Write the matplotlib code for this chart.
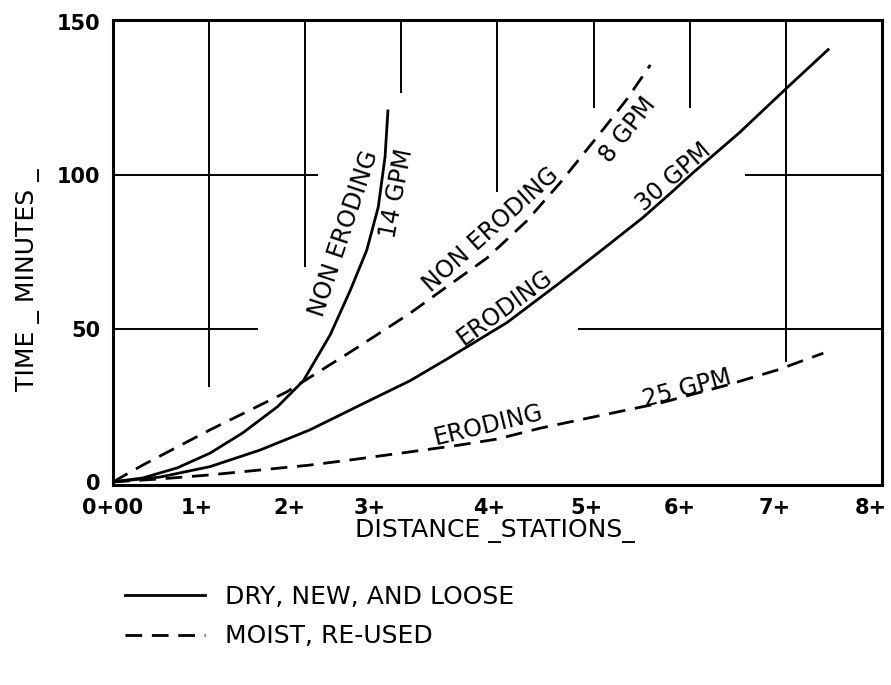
import numpy as np
import matplotlib
matplotlib.use('Agg')
import matplotlib.pyplot as plt

# --- data (distance in stations, time in minutes) ---
x_ne14 = [0, 0.31, 0.67, 1.01, 1.35, 1.71, 1.98, 2.26, 2.47, 2.64, 2.76, 2.83, 2.86]
y_ne14 = [0, 1.3, 4.6, 9.4, 16, 24.5, 33, 48, 62.6, 75.6, 89.7, 106, 121]

x_ne8 = [0, 0.31, 1.01, 1.43, 1.81, 2.5, 3.09, 3.47, 3.89, 4.3, 4.65, 5.1, 5.35, 5.59]
y_ne8 = [0, 5.5, 17, 23.5, 29.4, 43, 55, 63.6, 73, 85, 97.5, 115, 125, 136]

x_er30 = [0, 0.49, 1.01, 1.53, 2.05, 2.6, 3.09, 3.47, 4.1, 4.65, 5.1, 5.52, 5.83, 6.04, 6.52, 7.01, 7.44]
y_er30 = [0, 1.6, 5, 10.4, 17, 25.5, 33, 40, 52, 65, 76, 86.4, 95, 101, 114, 128.5, 141]

x_er25 = [0, 0.5, 1.01, 1.5, 2.05, 2.5, 3.09, 3.6, 4.0, 4.44, 5.0, 5.69, 6.39, 6.91, 7.39]
y_er25 = [0, 1.0, 2.3, 3.8, 5.5, 7.3, 9.8, 12, 14, 17.5, 21.2, 25.7, 31.6, 36.5, 42]

xtick_labels = ['0+00', '1+', '2+', '3+', '4+', '5+', '6+', '7+', '8+']
xtick_pos = [0, 0.87, 1.84, 2.67, 3.91, 4.93, 5.9, 6.88, 7.88]
yticks = [0, 50, 100, 150]

# partial grid lines drawn on the sheet
vgrid_x = [1, 2, 3, 4, 5, 6, 7]
vgrid_lo = [31, 70, 127, 94.5, 122, 122, 39]
hgrid = [(100, 0, 2.13), (100, 6.57, 8), (50, 0, 1.51), (50, 4.84, 8)]

# curve labels: text, x, y, angle
curve_text = [
    ('NON ERODING', 2.40, 80.9, 71.5),
    ('14 GPM',      2.955, 94.2, 79),
    ('NON ERODING', 3.93, 82.2, 42),
    ('8 GPM',       5.36, 114.8, 52),
    ('ERODING',     4.08, 57.0, 36),
    ('30 GPM',      5.83, 99.4, 41),
    ('ERODING',     3.90, 18.6, 13.5),
    ('25 GPM',      5.97, 30.6, 15),
]

W, H = 891, 685
fig = plt.figure(figsize=(W/100, H/100), dpi=100)
ax = fig.add_axes([113/W, 1-485/H, (882-113)/W, (485-20)/H])
ax.set_xlim(0, 8)
ax.set_ylim(-1, 150.65)

LW = 2.0
dash = (0, (6, 3.5))
solid_h, = ax.plot(x_er30, y_er30, color='black', lw=LW)
ax.plot(x_ne14, y_ne14, color='black', lw=LW)
dash_h, = ax.plot(x_er25, y_er25, color='black', lw=LW, linestyle=dash)
ax.plot(x_ne8, y_ne8, color='black', lw=LW, linestyle=dash)

ax.vlines(vgrid_x, vgrid_lo, 150.65, color='black', lw=1.4)
for yv, x0, x1 in hgrid:
    ax.hlines(yv, x0, x1, color='black', lw=1.4)

for txt, tx, ty, ang in curve_text:
    ax.text(tx, ty, txt, rotation=ang, rotation_mode='anchor', ha='center', va='center',
            fontsize=17)

for s in ax.spines.values():
    s.set_linewidth(2.2)

ax.set_xticks(xtick_pos)
ax.set_xticklabels(xtick_labels, fontsize=15, fontweight='bold')
ax.set_yticks(yticks)
ax.set_yticklabels([str(v) for v in yticks], fontsize=15, fontweight='bold')
ax.tick_params(axis='both', length=0)
ax.tick_params(axis='x', pad=9)
ax.tick_params(axis='y', pad=9)

ax.set_xlabel('DISTANCE _STATIONS_', fontsize=18, va='center')
ax.xaxis.set_label_coords((495-113)/769, (485-531)/465)
ax.set_ylabel('TIME _ MINUTES _', fontsize=18, va='center')
ax.yaxis.set_label_coords((28-113)/769, (485-280)/465)

fig.legend([solid_h, dash_h], ['DRY, NEW, AND LOOSE', 'MOIST, RE-USED'],
           loc='upper left', bbox_to_anchor=(125/W, 1-585/H), frameon=False,
           fontsize=18, handlelength=3.2, handletextpad=0.8, labelspacing=0.62,
           borderpad=0, borderaxespad=0)

fig.savefig('out.png', dpi=100)
